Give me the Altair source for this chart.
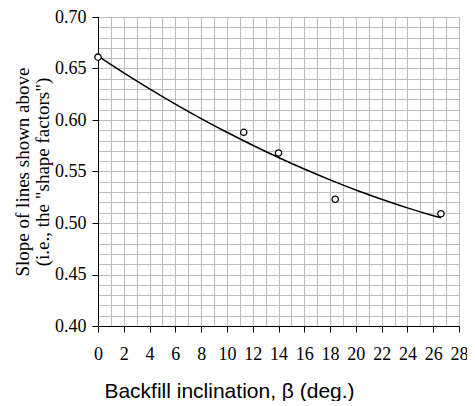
import altair as alt
import pandas as pd

# measured data points
beta_pts = [0.0, 11.3, 14.0, 18.4, 26.6]
slope_pts = [0.661, 0.588, 0.568, 0.523, 0.509]

# fitted curve
beta_fit = [0, 2, 4, 6, 8, 10, 12, 14, 16, 18, 20, 22, 24, 26, 26.6]
slope_fit = [0.662, 0.6458, 0.6303, 0.6155, 0.6014, 0.5881, 0.5755, 0.5636,
             0.5524, 0.5419, 0.5321, 0.5231, 0.5147, 0.5071, 0.505]

x_grid = list(range(0, 29))
y_grid = [round(0.40 + 0.01 * i, 2) for i in range(31)]

pts = pd.DataFrame({"beta": beta_pts, "slope": slope_pts})
fit = pd.DataFrame({"beta": beta_fit, "slope": slope_fit})

xscale = alt.Scale(domain=[0, 28], nice=False, zero=False)
yscale = alt.Scale(domain=[0.40, 0.70], nice=False, zero=False)

xaxis = alt.Axis(
    values=x_grid,
    labelExpr="datum.value % 2 === 0 ? datum.label : ''",
    tickOpacity={"condition": {"test": "datum.value % 2 === 0", "value": 1}, "value": 0},
    grid=True,
    gridColor="#bdbdbd",
    gridWidth=1,
    tickSize=6,
    tickColor="black",
    domainColor="black",
    labelFont="Liberation Serif",
    labelFontSize=18,
    labelColor="black",
    labelBaseline="alphabetic",
    labelPadding=27,
    labelFlush=False,
    labelOverlap=False,
    title="Backfill inclination, β (deg.)",
    titleFont="Liberation Sans",
    titleFontSize=21,
    titleFontWeight="normal",
    titleColor="black",
    titleX=131,
    titleY=71,
    titleAlign="center",
    titleBaseline="alphabetic",
)

yaxis = alt.Axis(
    values=y_grid,
    format=".2f",
    labelExpr="round(datum.value*100) % 5 === 0 ? datum.label : ''",
    tickOpacity={"condition": {"test": "round(datum.value*100) % 5 === 0", "value": 1}, "value": 0},
    grid=True,
    gridColor="#bdbdbd",
    gridWidth=1,
    tickSize=6,
    tickColor="black",
    domainColor="black",
    labelFont="Liberation Serif",
    labelFontSize=18,
    labelColor="black",
    labelPadding=6,
    labelFlush=False,
    labelOverlap=False,
    title=["Slope of lines shown above", '(i.e., the "shape factors")'],
    titleFont="Liberation Serif",
    titleFontSize=19,
    titleFontWeight="normal",
    titleColor="black",
    titlePadding=2,
    titleLineHeight=20,
)

line = alt.Chart(fit).mark_line(color="black", strokeWidth=1.5, interpolate="monotone").encode(
    x=alt.X("beta:Q", scale=xscale, axis=xaxis),
    y=alt.Y("slope:Q", scale=yscale, axis=yaxis),
)

points = alt.Chart(pts).mark_point(
    shape="circle", filled=True, fill="white", stroke="black", strokeWidth=1.3, size=40, opacity=1
).encode(
    x=alt.X("beta:Q", scale=xscale, axis=xaxis),
    y=alt.Y("slope:Q", scale=yscale, axis=yaxis),
)

chart = alt.layer(line, points).properties(
    width=361,
    height=309,
    autosize=alt.AutoSizeParams(type="none"),
    padding={"left": 90, "top": 9, "right": 8, "bottom": 75},
).configure_view(stroke="black", strokeWidth=1.5).configure(background="white")

chart.save("out.html", embed_options={"renderer": "svg", "actions": False})
